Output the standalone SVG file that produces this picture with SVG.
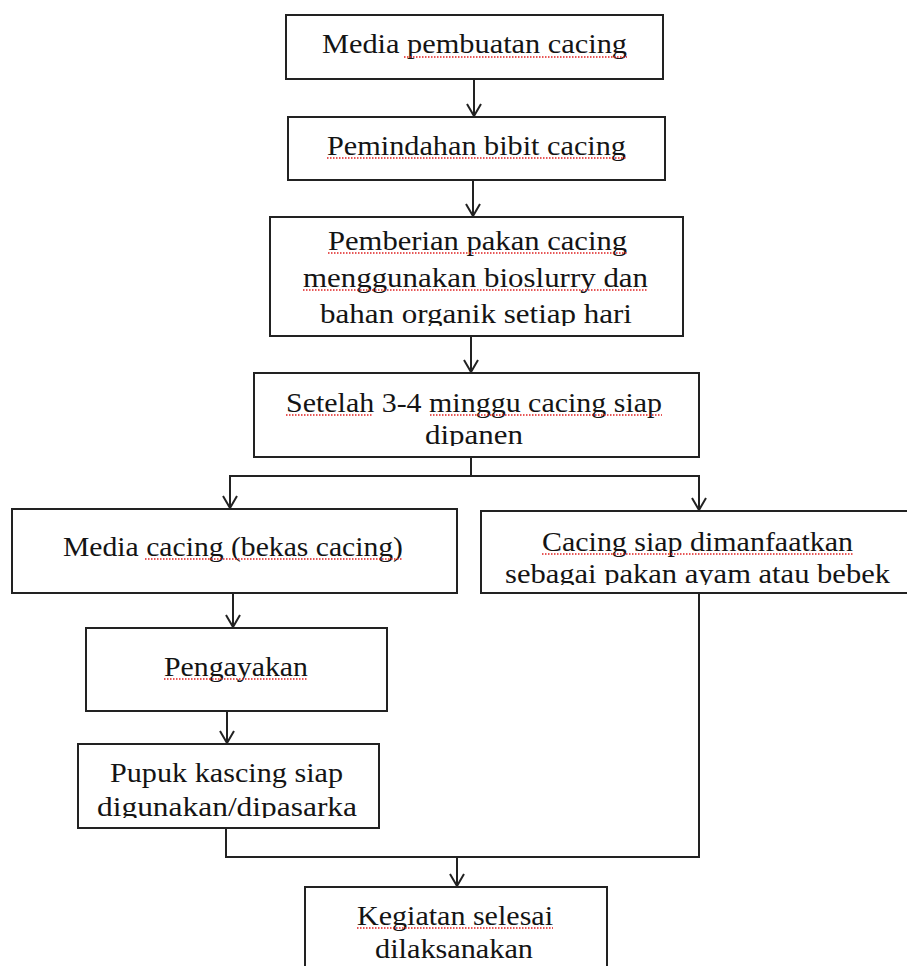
<svg xmlns="http://www.w3.org/2000/svg" width="907" height="966" viewBox="0 0 907 966">
<style>
.box{fill:#fff;stroke:#222;stroke-width:2}
.t{font-family:"Liberation Serif","Times New Roman",serif;font-size:28px;fill:#141414;text-anchor:middle}
.con{fill:none;stroke:#222;stroke-width:2}
.arr{marker-end:url(#ah)}
.sq{stroke:#e02020;stroke-width:1.3;stroke-dasharray:1.5 1.5;fill:none}
</style>
<defs>
<marker id="ah" viewBox="0 0 14 16" refX="13" refY="8" markerWidth="14" markerHeight="16" markerUnits="userSpaceOnUse" orient="auto-start-reverse">
<path d="M1,1 L13,8 L1,15" fill="none" stroke="#222" stroke-width="2"/>
</marker>
<clipPath id="c3"><rect x="270" y="217" width="413" height="109"/></clipPath>
<clipPath id="c4"><rect x="254" y="373" width="445" height="73"/></clipPath>
<clipPath id="c6"><rect x="481" y="511" width="430" height="74"/></clipPath>
<clipPath id="c8"><rect x="78" y="744" width="301" height="74"/></clipPath>
</defs>
<g id="connectors">
<line class="con arr" x1="474" y1="79" x2="474" y2="116"/>
<line class="con arr" x1="473" y1="180" x2="473" y2="216"/>
<line class="con arr" x1="471" y1="336" x2="471" y2="372"/>
<polyline class="con" points="471,457 471,476"/>
<polyline class="con arr" points="230,508 230,476 699,476 699,510" marker-start="url(#ah)"/>
<line class="con arr" x1="233" y1="593" x2="233" y2="627"/>
<line class="con arr" x1="227" y1="711" x2="227" y2="743"/>
<polyline class="con" points="226,828 226,857 699,857 699,593"/>
<line class="con arr" x1="457" y1="857" x2="457" y2="886"/>
</g>
<g id="n1">
<rect class="box" x="286" y="15" width="377" height="64"/>
<text class="t" x="474.5" y="53" textLength="305" lengthAdjust="spacingAndGlyphs">Media pembuatan cacing</text>
<line class="sq" x1="404" y1="57" x2="627" y2="57"/>
</g>
<g id="n2">
<rect class="box" x="288" y="117" width="377" height="63"/>
<text class="t" x="476.5" y="155" textLength="299" lengthAdjust="spacingAndGlyphs">Pemindahan bibit cacing</text>
<line class="sq" x1="327" y1="158" x2="626" y2="158"/>
</g>
<g id="n3">
<rect class="box" x="270" y="217" width="413" height="119"/>
<g clip-path="url(#c3)">
<text class="t" x="477.5" y="250" textLength="299" lengthAdjust="spacingAndGlyphs">Pemberian pakan cacing</text>
<text class="t" x="475.5" y="287" textLength="345" lengthAdjust="spacingAndGlyphs">menggunakan bioslurry dan</text>
<text class="t" x="476" y="323" textLength="312" lengthAdjust="spacingAndGlyphs">bahan organik setiap hari</text>
</g>
<line class="sq" x1="328" y1="253" x2="627" y2="253"/>
<line class="sq" x1="303" y1="290" x2="648" y2="290"/>
</g>
<g id="n4">
<rect class="box" x="254" y="373" width="445" height="84"/>
<g clip-path="url(#c4)">
<text class="t" x="474" y="412" textLength="376" lengthAdjust="spacingAndGlyphs">Setelah 3-4 minggu cacing siap</text>
<text class="t" x="474" y="444" textLength="98" lengthAdjust="spacingAndGlyphs">dipanen</text>
</g>
<line class="sq" x1="286" y1="415" x2="373" y2="415"/>
<line class="sq" x1="430" y1="415" x2="662" y2="415"/>
</g>
<g id="n5">
<rect class="box" x="12" y="509" width="445" height="84"/>
<text class="t" x="233" y="556" textLength="340" lengthAdjust="spacingAndGlyphs">Media cacing (bekas cacing)</text>
<line class="sq" x1="145" y1="559" x2="403" y2="559"/>
</g>
<g id="n6">
<rect class="box" x="481" y="511" width="440" height="82"/>
<g clip-path="url(#c6)">
<text class="t" x="697.5" y="551" textLength="311" lengthAdjust="spacingAndGlyphs">Cacing siap dimanfaatkan</text>
<text class="t" x="697.5" y="583" textLength="385" lengthAdjust="spacingAndGlyphs">sebagai pakan ayam atau bebek</text>
</g>
<line class="sq" x1="542" y1="554" x2="853" y2="554"/>
</g>
<g id="n7">
<rect class="box" x="86" y="628" width="301" height="83"/>
<text class="t" x="236" y="676" textLength="144" lengthAdjust="spacingAndGlyphs">Pengayakan</text>
<line class="sq" x1="164" y1="679" x2="308" y2="679"/>
</g>
<g id="n8">
<rect class="box" x="78" y="744" width="301" height="84"/>
<g clip-path="url(#c8)">
<text class="t" x="226.5" y="782" textLength="233" lengthAdjust="spacingAndGlyphs">Pupuk kascing siap</text>
<text class="t" x="227" y="816" textLength="260" lengthAdjust="spacingAndGlyphs">digunakan/dipasarka</text>
</g>
</g>
<g id="n9">
<rect class="box" x="305" y="887" width="302" height="100"/>
<text class="t" x="455" y="925" textLength="196" lengthAdjust="spacingAndGlyphs">Kegiatan selesai</text>
<text class="t" x="454" y="958" textLength="158" lengthAdjust="spacingAndGlyphs">dilaksanakan</text>
<line class="sq" x1="357" y1="928" x2="553" y2="928"/>
</g>
</svg>
